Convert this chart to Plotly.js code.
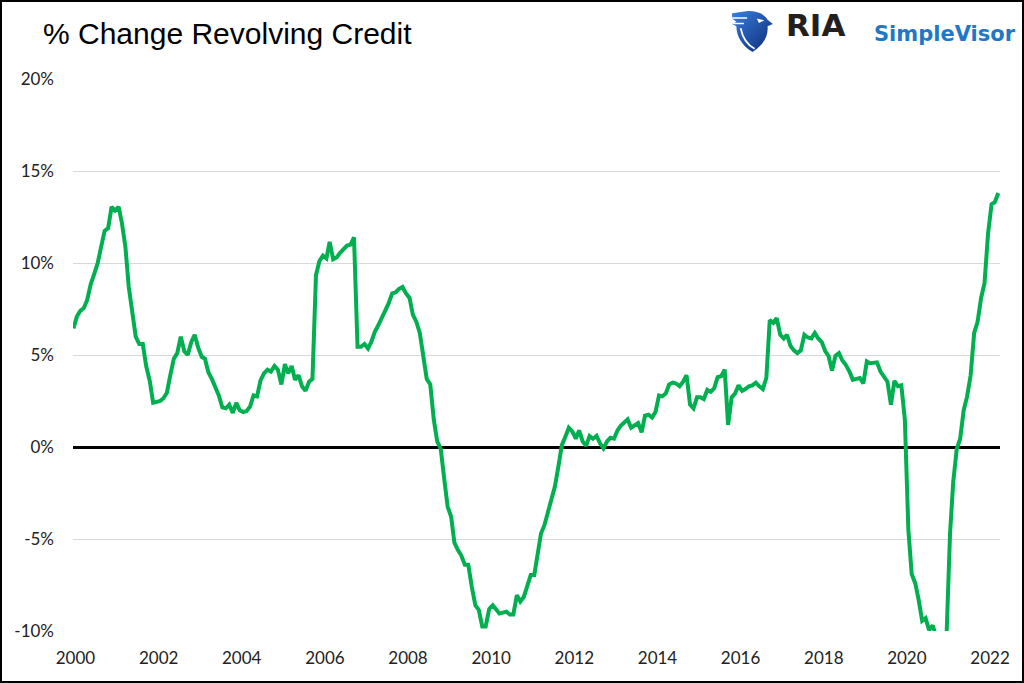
<!DOCTYPE html>
<html>
<head>
<meta charset="utf-8">
<script src="https://cdn.plot.ly/plotly-3.0.1.min.js"></script>
<style>
  html, body { margin: 0; padding: 0; background: #fff; }
  #chart { width: 1024px; height: 683px; }
</style>
</head>
<body>
<div id="chart"></div>
<script>
// ---- Data (monthly, Jan 2000 onward), % year-over-year change in revolving credit ----
const startYear = 2000;
const values2000 = [6.45, 7.1, 7.4, 7.55, 8.0, 8.85, 9.4, 10.0, 10.9, 11.75, 11.9, 13.05];
const values2001 = [12.85, 13.05, 12.2, 10.9, 8.7, 7.2, 6.0, 5.6, 5.6, 4.4, 3.6, 2.4];
const values2002 = [2.45, 2.5, 2.65, 2.95, 3.9, 4.8, 5.1, 6.0, 5.2, 5.0, 5.7, 6.1];
const values2003 = [5.4, 4.9, 4.8, 4.05, 3.7, 3.3, 2.8, 2.15, 2.1, 2.3, 1.85, 2.4];
const values2004 = [2.0, 1.9, 1.95, 2.2, 2.8, 2.75, 3.6, 4.0, 4.2, 4.1, 4.4, 4.2];
const values2005 = [3.4, 4.5, 4.0, 4.4, 3.65, 3.9, 3.3, 3.05, 3.55, 3.7, 9.35, 10.1];
const values2006 = [10.4, 10.25, 11.15, 10.2, 10.3, 10.55, 10.75, 10.95, 11.0, 11.4, 5.45, 5.45];
const values2007 = [5.6, 5.35, 5.7, 6.25, 6.6, 7.0, 7.35, 7.8, 8.35, 8.4, 8.6, 8.7];
const values2008 = [8.35, 8.1, 7.2, 6.8, 6.2, 5.0, 3.7, 3.4, 1.5, 0.3, -0.1, -1.7];
const values2009 = [-3.25, -3.8, -5.2, -5.6, -5.9, -6.4, -6.4, -7.6, -8.6, -8.85, -9.75, -9.75];
const values2010 = [-8.8, -8.6, -8.8, -9.05, -9.0, -8.95, -9.1, -9.1, -8.05, -8.4, -8.15, -7.6];
const values2011 = [-6.95, -6.95, -5.7, -4.7, -4.25, -3.6, -2.95, -2.15, -1.05, 0.1, 0.55, 1.05];
const values2012 = [0.85, 0.45, 0.9, 0.3, 0.07, 0.6, 0.45, 0.6, 0.2, -0.07, 0.3, 0.5];
const values2013 = [0.45, 0.9, 1.15, 1.3, 1.5, 1.05, 1.15, 1.3, 0.8, 1.7, 1.75, 1.6];
const values2014 = [1.9, 2.8, 2.75, 2.9, 3.4, 3.5, 3.45, 3.3, 3.55, 3.9, 2.3, 2.1];
const values2015 = [2.7, 2.7, 2.6, 3.1, 3.0, 3.2, 3.8, 3.85, 4.2, 1.2, 2.7, 2.9];
const values2016 = [3.35, 3.05, 3.15, 3.3, 3.35, 3.5, 3.3, 3.15, 3.75, 6.9, 6.75, 7.0];
const values2017 = [6.1, 5.9, 6.1, 5.5, 5.25, 5.1, 5.25, 6.1, 5.95, 5.9, 6.2, 5.9];
const values2018 = [5.7, 5.2, 4.95, 4.15, 4.95, 5.1, 4.7, 4.45, 4.1, 3.65, 3.7, 3.75];
const values2019 = [3.45, 4.65, 4.55, 4.55, 4.6, 4.1, 3.8, 3.55, 2.3, 3.6, 3.3, 3.35];
const values2020 = [1.5, -4.5, -6.9, -7.4, -8.3, -9.45, -9.3, -9.95, -9.7, -10.2, -10.8, -11.0];
const values2021 = [-10.3, -4.7, -1.9, -0.1, 0.45, 2.0, 2.75, 3.9, 6.2, 6.8, 8.1, 8.9];
const values2022 = [11.6, 13.2, 13.3, 13.8];

const yTickVals = [-10, -5, 0, 5, 10, 15, 20];
const yTickText = ["-10%", "-5%", "0%", "5%", "10%", "15%", "20%"];

const titleText = "% Change Revolving Credit";
const brandName = "RIA";
const brandProduct = "SimpleVisor";

// ---- Build series ----
const yearly = [values2000, values2001, values2002, values2003, values2004, values2005,
  values2006, values2007, values2008, values2009, values2010, values2011, values2012,
  values2013, values2014, values2015, values2016, values2017, values2018, values2019,
  values2020, values2021, values2022];
const xs = [], ys = [];
yearly.forEach((arr, yi) => {
  arr.forEach((v, mi) => {
    const mm = String(mi + 1).padStart(2, '0');
    xs.push(`${startYear + yi}-${mm}-01`);
    ys.push(v);
  });
});

const trace = {
  x: xs, y: ys, type: 'scatter', mode: 'lines',
  line: { color: '#00B050', width: 4 },
  hoverinfo: 'x+y'
};

// ---- Layout geometry ----
const W = 1024, H = 683;
const M = { l: 73, r: 24, t: 79, b: 52 };
const PW = W - M.l - M.r, PH = H - M.t - M.b;
const px = X => (X - M.l) / PW;
const py = Y => (H - M.b - Y) / PH;

const eagleSvg = "<svg xmlns='http://www.w3.org/2000/svg' viewBox='0 0 40 40'>" +
  "<defs><linearGradient id='g' x1='0' y1='0' x2='1' y2='1'>" +
  "<stop offset='0' stop-color='#3a7ee0'/><stop offset='1' stop-color='#0b2a73'/></linearGradient></defs>" +
  "<path fill='url(#g)' d='M1 3 L16 1 C25 1 31 4 34 9 L39 13 L34 15 C35 24 30 33 20 39 C10 33 5 24 5 15 L1 13 L5 11 L1 8 Z'/>" +
  "<path d='M1 7.5 L15 7.5 M2 12.5 L12 12.5' stroke='white' stroke-width='1.3'/>" +
  "<path d='M9 17 C11 27 16 33 22 36' fill='none' stroke='white' stroke-width='1.6'/>" +
  "<path d='M24 8 L31 9.5 L26 12 Z' fill='white'/>" +
  "</svg>";

const tickFont = { family: "Lato, 'Open Sans', sans-serif", size: 17, color: '#222' };

const layout = {
  width: W, height: H,
  margin: M,
  paper_bgcolor: '#fff', plot_bgcolor: '#fff',
  showlegend: false,
  title: {
    text: titleText,
    xref: 'container', yref: 'container',
    x: 43 / W, xanchor: 'left',
    y: 1 - 33 / H, yanchor: 'middle',
    font: { family: "'Liberation Sans', Arial, sans-serif", size: 30, color: '#000' }
  },
  xaxis: {
    type: 'date',
    range: ['1999-12-28', '2022-04-16'],
    tick0: '2000-01-01', dtick: 'M24', tickformat: '%Y',
    showgrid: false, zeroline: false, showline: false, ticks: '',
    tickfont: tickFont,
    ticklabelshift: 2,
    ticklabelstandoff: 15
  },
  yaxis: {
    range: [-10, 20],
    tickvals: yTickVals, ticktext: yTickText,
    showgrid: true, gridcolor: '#d9d9d9', gridwidth: 1,
    zeroline: true, zerolinecolor: '#000', zerolinewidth: 3,
    showline: false, ticks: '',
    tickfont: tickFont,
    ticklabelstandoff: 18
  },
  images: [{
    source: 'data:image/svg+xml;charset=utf-8,' + encodeURIComponent(eagleSvg),
    xref: 'paper', yref: 'paper',
    x: px(731), y: py(10), sizex: 43 / PW, sizey: 43 / PH,
    xanchor: 'left', yanchor: 'top', sizing: 'stretch', layer: 'above'
  }],
  annotations: [
    {
      text: brandName, xref: 'paper', yref: 'paper',
      x: px(784), y: py(25), xanchor: 'left', yanchor: 'middle', showarrow: false,
      font: { family: "'DejaVu Sans', sans-serif", size: 31, weight: 700, color: '#231f20' }
    },
    {
      text: brandProduct, xref: 'paper', yref: 'paper',
      x: px(872), y: py(34), xanchor: 'left', yanchor: 'middle', showarrow: false,
      font: { family: "'DejaVu Sans', sans-serif", size: 21, weight: 700, color: '#1e78c8' }
    }
  ],
  shapes: [{
    type: 'rect', xref: 'paper', yref: 'paper',
    x0: px(1), x1: px(1023), y0: py(682), y1: py(1),
    line: { color: '#000', width: 2 }, fillcolor: 'rgba(0,0,0,0)', layer: 'above'
  }]
};

Plotly.newPlot('chart', [trace], layout, { displayModeBar: false, staticPlot: true });
</script>
</body>
</html>
